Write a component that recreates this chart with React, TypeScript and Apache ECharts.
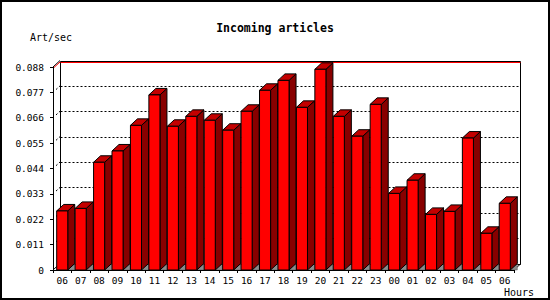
import React, { useEffect, useRef } from "react";
import * as echarts from "echarts";

const hours = ["06", "07", "08", "09", "10", "11", "12", "13", "14", "15", "16", "17", "18", "19", "20", "21", "22", "23", "00", "01", "02", "03", "04", "05", "06"];
const rates = [0.0256, 0.0267, 0.0467, 0.0516, 0.0627, 0.0759, 0.0623, 0.0666, 0.0649, 0.0606, 0.0688, 0.0779, 0.0822, 0.0705, 0.0870, 0.0666, 0.0580, 0.0718, 0.0332, 0.0389, 0.0241, 0.0254, 0.0572, 0.0159, 0.0289];
const yTicks = [0, 0.011, 0.022, 0.033, 0.044, 0.055, 0.066, 0.077, 0.088];
const yMin = 0;
const yMax = 0.088;
const yStep = 0.011;
const titleText = "Incoming articles";
const yName = "Art/sec";
const xName = "Hours";

const DX = 7;
const DY = -6.5;
const FONT = "DejaVu Sans Mono";

export default function App() {
  const ref = useRef<HTMLDivElement>(null);
  useEffect(() => {
    document.body.style.margin = "0";
    const chart = echarts.init(ref.current as HTMLDivElement, null, { renderer: "svg" });
    const px = (v: number) => Math.round(v) + 0.5;

    const wallItem = (_params: any, api: any) => {
      const catW = api.size([1, 0])[0];
      const n = hours.length;
      const x0 = api.coord([0, yMin])[0] - catW / 2;
      const x1 = api.coord([n - 1, yMin])[0] + catW / 2;
      const yb = api.coord([0, yMin])[1];
      const yt = api.coord([0, yMax])[1];
      const bx0 = px(x0 + DX);
      const bx1 = px(x1 + DX - 1);
      const byt = px(yt + DY);
      const byb = px(yb + DY);
      const children: any[] = [];
      children.push({
        type: "rect",
        shape: { x: bx0, y: byt, width: bx1 - bx0, height: byb - byt },
        style: { fill: "#ffffff", stroke: "#000000", lineWidth: 1 },
      });
      yTicks.forEach((t) => {
        const y = api.coord([0, t])[1];
        if (t > yMin && t < yMax) {
          children.push({
            type: "line",
            shape: { x1: bx0, y1: px(y + DY), x2: bx1, y2: px(y + DY) },
            style: { stroke: "#000000", lineWidth: 1, lineDash: [2, 2] },
          });
          children.push({
            type: "line",
            shape: { x1: x0 + 3, y1: y - 2.8, x2: x0 + DX, y2: y + DY },
            style: { stroke: "#000000", lineWidth: 1, lineDash: [2, 2] },
          });
        }
      });
      // max line (red)
      children.push({
        type: "line",
        shape: { x1: bx0, y1: byt + 1, x2: bx1, y2: byt + 1 },
        style: { stroke: "#ff0000", lineWidth: 1 },
      });
      children.push({
        type: "line",
        shape: { x1: x0, y1: yt, x2: x0 + DX, y2: yt + DY },
        style: { stroke: "#000000", lineWidth: 1 },
      });
      children.push({
        type: "line",
        shape: { x1: x0 + 1, y1: yt + 0.5, x2: x0 + DX, y2: yt + DY + 1.5 },
        style: { stroke: "#ff0000", lineWidth: 1 },
      });
      // floor edges
      children.push({
        type: "line",
        shape: { x1: x0, y1: yb, x2: x0 + DX, y2: yb + DY },
        style: { stroke: "#000000", lineWidth: 1 },
      });
      children.push({
        type: "line",
        shape: { x1: x1, y1: yb, x2: x1 + DX, y2: yb + DY },
        style: { stroke: "#000000", lineWidth: 1 },
      });
      return { type: "group", children };
    };

    const barItem = (_params: any, api: any) => {
      const i = api.value(0);
      const v = api.value(1);
      const top = api.coord([i, v]);
      const base = api.coord([i, yMin]);
      const catW = api.size([1, 0])[0];
      const bw = catW * 0.6;
      const l = top[0] - bw / 2;
      const r = top[0] + bw / 2;
      const yt = top[1];
      const yb = base[1];
      const stroke = { stroke: "#000000", lineWidth: 1, lineJoin: "miter" };
      return {
        type: "group",
        children: [
          {
            type: "polygon",
            shape: { points: [[r, yb], [r + DX, yb + DY], [r + DX, yb]] },
            style: { fill: "#8c8c8c", stroke: "#555555", lineWidth: 0.5 },
          },
          {
            type: "polygon",
            shape: { points: [[r, yt], [r + DX, yt + DY], [r + DX, yb + DY], [r, yb]] },
            style: { fill: "#880000", ...stroke },
          },
          {
            type: "polygon",
            shape: { points: [[l, yt], [l + DX, yt + DY], [r + DX, yt + DY], [r, yt]] },
            style: { fill: "#c40000", ...stroke },
          },
          {
            type: "rect",
            shape: { x: l, y: yt, width: bw, height: yb - yt },
            style: { fill: "#ff0000", ...stroke },
          },
        ],
      };
    };

    chart.setOption({
      animation: false,
      backgroundColor: "#ffffff",
      title: {
        text: titleText,
        left: "center",
        top: 17,
        textStyle: { fontFamily: FONT, fontSize: 11.5, fontWeight: "bold", color: "#000000" },
      },
      grid: { left: 53, top: 67, width: 461, height: 203 },
      xAxis: {
        type: "category",
        data: hours,
        boundaryGap: true,
        axisLine: { show: true, lineStyle: { color: "#000000", width: 1 } },
        axisTick: { show: true, length: 3, lineStyle: { color: "#000000" } },
        axisLabel: { color: "#000000", fontFamily: FONT, fontSize: 9.5, margin: 5, interval: 0 },
        splitLine: { show: false },
        z: 10,
      },
      yAxis: {
        type: "value",
        min: yMin,
        max: yMax,
        interval: yStep,
        axisLine: { show: true, lineStyle: { color: "#000000", width: 1 } },
        axisTick: { show: true, length: 3, lineStyle: { color: "#000000" } },
        axisLabel: {
          color: "#000000",
          fontFamily: FONT,
          fontSize: 9.5,
          margin: 9,
          formatter: (v: number) => (v === 0 ? "0" : v.toFixed(3)),
        },
        splitLine: { show: false },
        z: 10,
      },
      graphic: [
        {
          type: "rect",
          shape: { x: 1, y: 1, width: 548, height: 298 },
          style: { fill: "none", stroke: "#000000", lineWidth: 2 },
          z: 100,
        },
        {
          type: "text",
          left: 30,
          top: 32,
          style: { text: yName, font: `10px "${FONT}"`, fill: "#000000" },
        },
        {
          type: "text",
          left: 504,
          top: 287,
          style: { text: xName, font: `10px "${FONT}"`, fill: "#000000" },
        },
      ],
      series: [
        {
          type: "custom",
          name: "wall",
          data: [[0, 0]],
          renderItem: wallItem,
          z: 1,
          silent: true,
        },
        {
          type: "custom",
          name: "rate",
          data: rates.map((v, i) => [i, v]),
          renderItem: barItem,
          z: 2,
        },
      ],
    });
    return () => chart.dispose();
  }, []);
  return <div ref={ref} style={{ width: 550, height: 300 }} />;
}
